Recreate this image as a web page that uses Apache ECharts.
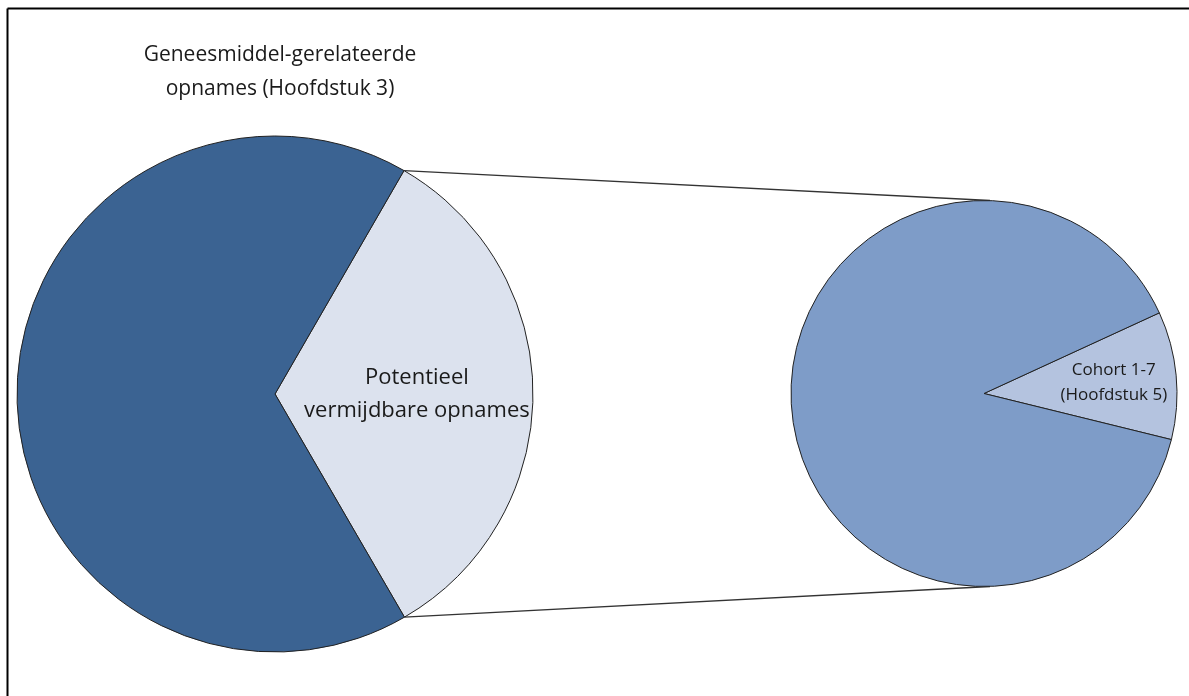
<!DOCTYPE html>
<html>
<head>
<meta charset="utf-8">
<style>
  html, body { margin: 0; padding: 0; background: #fff; }
  #chart { width: 1189px; height: 696px; }
</style>
<script src="https://cdn.jsdelivr.net/npm/echarts@6/dist/echarts.min.js"></script>
</head>
<body>
<div id="chart"></div>
<script>
// ---- data ----
const mainCategories = ['Potentieel\nvermijdbare opnames', 'Overige geneesmiddel-gerelateerde opnames'];
const mainValues = [33.3, 66.7];
const subCategories = ['Cohort 1-7\n(Hoofdstuk 5)', 'Overige potentieel vermijdbare opnames'];
const subValues = [10.7, 89.3];
const mainTitle = 'Geneesmiddel-gerelateerde\nopnames (Hoofdstuk 3)';

// ---- layout ----
const W = 1189, H = 696;
const mainCenter = [275, 394], mainR = 258;
const subCenter = [984, 393.5], subR = 193;
const mainStart = 60;      // degrees, counterclockwise from east
const subStart = 24.7;

const mainColors = ['#DCE2EE', '#3B6392'];
const subColors = ['#B4C3DF', '#7E9CC8'];

function sum(a) { return a.reduce((s, v) => s + v, 0); }
function pt(c, r, deg) {
  const a = deg * Math.PI / 180;
  return [c[0] + r * Math.cos(a), c[1] - r * Math.sin(a)];
}

// edges of the exploded slice (first slice of main pie, drawn clockwise)
const sliceSpan = mainValues[0] / sum(mainValues) * 360;
const edgeTop = pt(mainCenter, mainR, mainStart);
const edgeBot = pt(mainCenter, mainR, mainStart - sliceSpan);
const mainMid = mainStart - sliceSpan / 2;
const subSpan = subValues[0] / sum(subValues) * 360;
const subMid = subStart - subSpan / 2;

const mainLabelPos = pt(mainCenter, mainR * 0.55, mainMid);
const subLabelPos = pt(subCenter, subR * 0.675, subMid - 0.5);

const chart = echarts.init(document.getElementById('chart'), null, { renderer: 'canvas' });
chart.setOption({
  backgroundColor: '#ffffff',
  animation: false,
  title: {
    text: mainTitle,
    left: mainCenter[0],
    top: 33,
    textAlign: 'center',
    textStyle: {
      fontFamily: 'Open Sans',
      fontWeight: 'normal',
      fontSize: 21,
      lineHeight: 34,
      color: '#1a1a1a'
    }
  },
  series: [
    {
      type: 'pie',
      center: mainCenter,
      radius: mainR,
      startAngle: mainStart,
      clockwise: true,
      silent: true,
      label: { show: false },
      labelLine: { show: false },
      itemStyle: { borderColor: '#222', borderWidth: 1 },
      data: mainCategories.map((n, i) => ({ name: n, value: mainValues[i], itemStyle: { color: mainColors[i] } }))
    },
    {
      type: 'pie',
      center: subCenter,
      radius: subR,
      startAngle: subStart,
      clockwise: true,
      silent: true,
      label: { show: false },
      labelLine: { show: false },
      itemStyle: { borderColor: '#222', borderWidth: 1 },
      data: subCategories.map((n, i) => ({ name: n, value: subValues[i], itemStyle: { color: subColors[i] } }))
    }
  ],
  graphic: [
    { type: 'line', z: -1, shape: { x1: 7.5, y1: 8.5, x2: W, y2: 8.5 }, style: { stroke: '#000', lineWidth: 2 } },
    { type: 'line', z: -1, shape: { x1: 7.5, y1: 8.5, x2: 7.5, y2: H }, style: { stroke: '#000', lineWidth: 2 } },
    { type: 'line', z: -1, shape: { x1: edgeTop[0], y1: edgeTop[1], x2: subCenter[0] + 6, y2: subCenter[1] - subR }, style: { stroke: '#333', lineWidth: 1.3 } },
    { type: 'line', z: -1, shape: { x1: edgeBot[0], y1: edgeBot[1], x2: subCenter[0] + 6, y2: subCenter[1] + subR }, style: { stroke: '#333', lineWidth: 1.3 } },
    {
      type: 'text', z: 100,
      x: mainLabelPos[0], y: mainLabelPos[1],
      style: {
        text: mainCategories[0],
        align: 'center', verticalAlign: 'middle',
        fontFamily: 'Open Sans', fontSize: 22, lineHeight: 33, fill: '#1a1a1a'
      }
    },
    {
      type: 'text', z: 100,
      x: subLabelPos[0], y: subLabelPos[1],
      style: {
        text: subCategories[0],
        align: 'center', verticalAlign: 'middle',
        fontFamily: 'Open Sans', fontSize: 17, lineHeight: 25, fill: '#1a1a1a'
      }
    }
  ]
});
</script>
</body>
</html>
